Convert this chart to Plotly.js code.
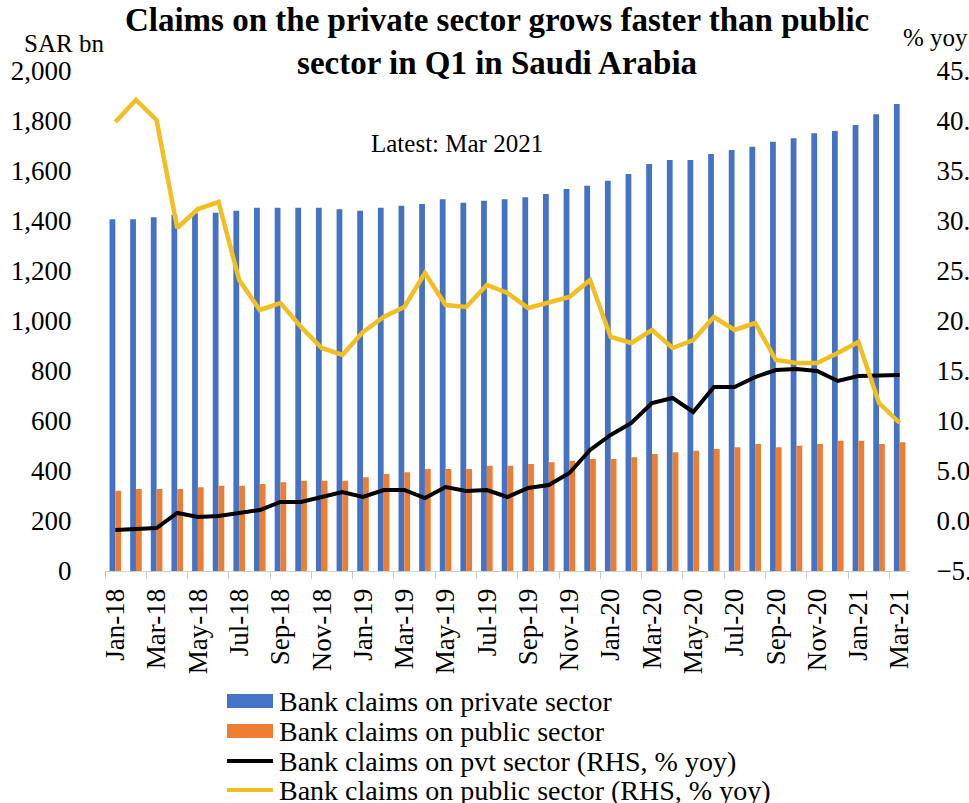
<!DOCTYPE html>
<html>
<head>
<meta charset="utf-8">
<script src="https://cdn.plot.ly/plotly-3.0.1.min.js"></script>
<style>
html,body{margin:0;padding:0;background:#fff;}
#chart{width:969px;height:803px;}
</style>
</head>
<body>
<div id="chart"></div>
<script>
// ---- Data ----
var months = ["Jan-18","Feb-18","Mar-18","Apr-18","May-18","Jun-18","Jul-18","Aug-18","Sep-18","Oct-18","Nov-18","Dec-18",
              "Jan-19","Feb-19","Mar-19","Apr-19","May-19","Jun-19","Jul-19","Aug-19","Sep-19","Oct-19","Nov-19","Dec-19",
              "Jan-20","Feb-20","Mar-20","Apr-20","May-20","Jun-20","Jul-20","Aug-20","Sep-20","Oct-20","Nov-20","Dec-20",
              "Jan-21","Feb-21","Mar-21"];
var privateClaims = [1407,1407,1415,1425,1431,1433,1441,1453,1453,1453,1453,1447,
                     1441,1453,1461,1468,1487,1473,1481,1487,1495,1508,1528,1541,
                     1561,1588,1628,1644,1644,1668,1684,1697,1717,1731,1751,1760,
                     1784,1827,1868];
var publicClaims = [321,328,328,328,335,341,341,348,355,361,361,361,
                    375,388,395,408,408,408,421,421,428,435,441,448,
                    448,455,468,475,481,488,495,508,495,501,508,521,
                    521,508,515];
var pvtYoy = [-0.9,-0.8,-0.7,0.8,0.4,0.5,0.8,1.1,1.9,1.9,2.4,2.9,
              2.4,3.1,3.1,2.3,3.4,3.0,3.1,2.4,3.3,3.6,4.8,7.1,
              8.6,9.8,11.8,12.3,10.9,13.4,13.4,14.4,15.1,15.2,15.0,14.0,
              14.5,14.6,14.6];
var pubYoy = [39.9,42.1,40.1,29.3,31.2,31.9,24.1,21.1,21.8,19.4,17.3,16.6,
              18.9,20.4,21.4,24.8,21.6,21.4,23.6,22.8,21.3,21.8,22.4,24.1,
              18.4,17.8,19.1,17.3,18.1,20.4,19.1,19.8,16.1,15.8,15.8,16.8,
              17.9,11.8,9.8];
var seriesNames = ["Bank claims on private sector","Bank claims on public sector",
                   "Bank claims on pvt sector (RHS, % yoy)","Bank claims on public sector (RHS, % yoy)"];
var seriesColors = ["#4472C4","#ED7D31","#000000","#F2BE22"];
var titleText = "<b>Claims on the private sector grows faster than public<br>sector in Q1 in Saudi Arabia</b>";

// ---- Layout geometry (pixels) ----
var L = 105, R = 59, T = 71, B = 232, W = 969 - L - R, H = 803 - T - B;
function X(px){ return (px - L) / W; }
function Y(py){ return (T + H - py) / H; }

var FONT = "Liberation Serif, Times New Roman, serif";

var traces = [
  {type:"bar", name:seriesNames[0], x:months, y:privateClaims, marker:{color:seriesColors[0]}, yaxis:"y"},
  {type:"bar", name:seriesNames[1], x:months, y:publicClaims, marker:{color:seriesColors[1]}, yaxis:"y"},
  {type:"scatter", mode:"lines", name:seriesNames[2], x:months, y:pvtYoy, yaxis:"y2",
   line:{color:seriesColors[2], width:4}},
  {type:"scatter", mode:"lines", name:seriesNames[3], x:months, y:pubYoy, yaxis:"y2",
   line:{color:seriesColors[3], width:4.5}}
];

// compact legend (rows spaced like the reference)
var legendRows = [701, 731, 761, 790];
var shapes = [
  {type:"rect", xref:"paper", yref:"paper", x0:X(227), x1:X(273), y0:Y(legendRows[0]+7), y1:Y(legendRows[0]-7),
   fillcolor:seriesColors[0], line:{width:0}},
  {type:"rect", xref:"paper", yref:"paper", x0:X(227), x1:X(273), y0:Y(legendRows[1]+7), y1:Y(legendRows[1]-7),
   fillcolor:seriesColors[1], line:{width:0}},
  {type:"line", xref:"paper", yref:"paper", x0:X(227), x1:X(273), y0:Y(legendRows[2]), y1:Y(legendRows[2]),
   line:{color:seriesColors[2], width:4}},
  {type:"line", xref:"paper", yref:"paper", x0:X(227), x1:X(273), y0:Y(legendRows[3]), y1:Y(legendRows[3]),
   line:{color:seriesColors[3], width:4}}
];
var annotations = [
  {text:"SAR bn", xref:"paper", yref:"paper", x:X(64), y:Y(44), xanchor:"center", yanchor:"middle",
   showarrow:false, font:{family:FONT, size:25, color:"#000"}},
  {text:"% yoy", xref:"paper", yref:"paper", x:X(935), y:Y(38), xanchor:"center", yanchor:"middle",
   showarrow:false, font:{family:FONT, size:25, color:"#000"}},
  {text:"Latest: Mar 2021", xref:"paper", yref:"paper", x:X(457), y:Y(143), xanchor:"center", yanchor:"middle",
   showarrow:false, font:{family:FONT, size:25, color:"#000"}}
];
for (var i = 0; i < seriesNames.length; i++) {
  annotations.push({text:seriesNames[i], xref:"paper", yref:"paper", x:X(277), y:Y(legendRows[i]),
    xanchor:"left", yanchor:"middle", showarrow:false, font:{family:FONT, size:28, color:"#000"}});
}

var layout = {
  width:969, height:803,
  margin:{l:L, r:R, t:T, b:B, pad:0},
  paper_bgcolor:"#ffffff", plot_bgcolor:"#ffffff",
  font:{family:FONT, size:27, color:"#000"},
  title:{text:titleText, x:0.513, xanchor:"center", y:1 - 31/803, yanchor:"middle", yref:"container",
         font:{family:FONT, size:33, color:"#000"}},
  showlegend:false,
  barmode:"group", bargap:0.44, bargroupgap:0,
  xaxis:{type:"category", categoryorder:"array", categoryarray:months,
         tickmode:"linear", tick0:0, dtick:2, tickson:"boundaries",
         ticks:"outside", ticklen:7, tickcolor:"#c8c8c8", tickwidth:1,
         showline:true, linecolor:"#d0d0d0", linewidth:1,
         showgrid:false, zeroline:false, tickangle:-90, ticklabelstandoff:6,
         tickfont:{family:FONT, size:27, color:"#000"}, range:[-0.5, 38.5]},
  yaxis:{range:[0,2000], dtick:200, tickformat:",d", showgrid:false, zeroline:false, showline:false,
         ticks:"outside", ticklen:27, tickcolor:"rgba(0,0,0,0)",
         tickfont:{family:FONT, size:27, color:"#000"}},
  yaxis2:{range:[-5,45], dtick:5, tickformat:".1f", overlaying:"y", side:"right",
          showgrid:false, zeroline:false, showline:false,
          ticks:"outside", ticklen:20, tickcolor:"rgba(0,0,0,0)",
          tickfont:{family:FONT, size:27, color:"#000"}},
  shapes:shapes,
  annotations:annotations
};

Plotly.newPlot("chart", traces, layout, {displayModeBar:false, staticPlot:true});
</script>
</body>
</html>
